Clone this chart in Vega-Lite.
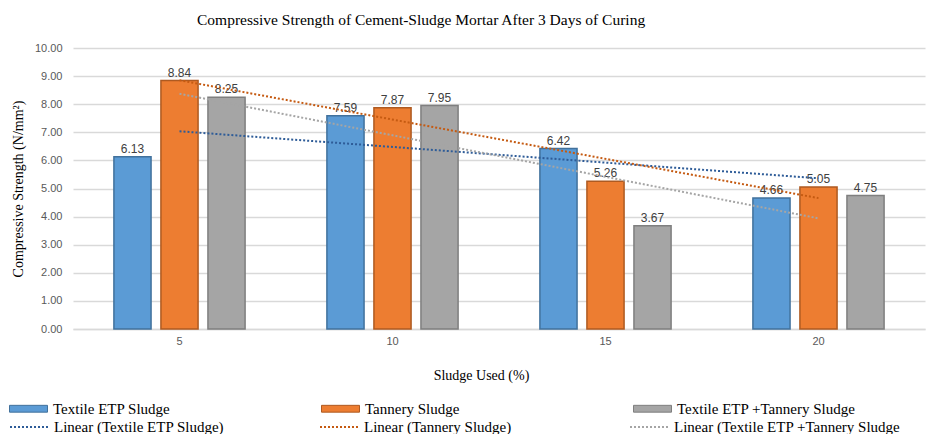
{
  "$schema": "https://vega.github.io/schema/vega-lite/v6.json",
  "autosize": {"type": "none"},
  "width": 852,
  "height": 281,
  "padding": {"left": 73, "top": 48, "right": 3, "bottom": 105},
  "background": "white",
  "title": {
    "text": "Compressive Strength  of Cement-Sludge Mortar After 3 Days of Curing",
    "anchor": "start",
    "frame": "group",
    "dx": 124,
    "offset": 14,
    "font": "Liberation Serif",
    "fontSize": 15.5,
    "fontWeight": "normal",
    "color": "#000000"
  },
  "config": {"view": {"stroke": null}},
  "data": {
    "values": [
      {"sludge": 5, "series": "Textile ETP Sludge", "trend": "Linear (Textile ETP Sludge)", "value": 6.13},
      {"sludge": 5, "series": "Tannery  Sludge", "trend": "Linear (Tannery  Sludge)", "value": 8.84},
      {"sludge": 5, "series": "Textile ETP +Tannery  Sludge", "trend": "Linear (Textile ETP +Tannery  Sludge", "value": 8.25},
      {"sludge": 10, "series": "Textile ETP Sludge", "trend": "Linear (Textile ETP Sludge)", "value": 7.59},
      {"sludge": 10, "series": "Tannery  Sludge", "trend": "Linear (Tannery  Sludge)", "value": 7.87},
      {"sludge": 10, "series": "Textile ETP +Tannery  Sludge", "trend": "Linear (Textile ETP +Tannery  Sludge", "value": 7.95},
      {"sludge": 15, "series": "Textile ETP Sludge", "trend": "Linear (Textile ETP Sludge)", "value": 6.42},
      {"sludge": 15, "series": "Tannery  Sludge", "trend": "Linear (Tannery  Sludge)", "value": 5.26},
      {"sludge": 15, "series": "Textile ETP +Tannery  Sludge", "trend": "Linear (Textile ETP +Tannery  Sludge", "value": 3.67},
      {"sludge": 20, "series": "Textile ETP Sludge", "trend": "Linear (Textile ETP Sludge)", "value": 4.66},
      {"sludge": 20, "series": "Tannery  Sludge", "trend": "Linear (Tannery  Sludge)", "value": 5.05},
      {"sludge": 20, "series": "Textile ETP +Tannery  Sludge", "trend": "Linear (Textile ETP +Tannery  Sludge", "value": 4.75}
    ]
  },
  "encoding": {
    "x": {
      "field": "sludge",
      "type": "ordinal",
      "scale": {"paddingInner": 0.34, "paddingOuter": 0.17},
      "axis": {
        "title": "Sludge Used (%)",
        "labelAngle": 0,
        "ticks": false,
        "domainColor": "#d9d9d9",
        "domainWidth": 1.5,
        "labelPadding": 6,
        "labelFont": "Liberation Sans",
        "labelFontSize": 11,
        "labelColor": "#595959",
        "titleFont": "Liberation Serif",
        "titleFontSize": 14,
        "titleFontWeight": "normal",
        "titleColor": "#000000",
        "titlePadding": 22,
        "titleX": 408
      }
    },
    "y": {
      "field": "value",
      "type": "quantitative",
      "scale": {"domain": [0, 10]},
      "axis": {
        "title": "Compressive Strength (N/mm²)",
        "values": [0, 1, 2, 3, 4, 5, 6, 7, 8, 9, 10],
        "format": ".2f",
        "labelOverlap": false,
        "grid": true,
        "gridColor": "#d9d9d9",
        "gridWidth": 1.5,
        "domain": false,
        "ticks": false,
        "labelPadding": 11,
        "labelFont": "Liberation Sans",
        "labelFontSize": 11,
        "labelColor": "#595959",
        "titleFont": "Liberation Serif",
        "titleFontSize": 14,
        "titleFontWeight": "normal",
        "titleColor": "#000000",
        "titlePadding": 9
      }
    }
  },
  "layer": [
    {
      "mark": {"type": "bar", "strokeWidth": 1.5},
      "encoding": {
        "xOffset": {
          "field": "series",
          "type": "nominal",
          "scale": {"domain": ["Textile ETP Sludge", "Tannery  Sludge", "Textile ETP +Tannery  Sludge"], "paddingInner": 0.21, "paddingOuter": 0.1}
        },
        "fill": {
          "field": "series",
          "type": "nominal",
          "scale": {"domain": ["Textile ETP Sludge", "Tannery  Sludge", "Textile ETP +Tannery  Sludge"], "range": ["#5B9BD5", "#ED7D31", "#A5A5A5"]},
          "legend": {
            "title": null,
            "orient": "none",
            "legendX": -64,
            "legendY": 341,
            "direction": "horizontal",
            "columns": 3,
            "gridAlign": "all",
            "columnPadding": 83,
            "symbolType": "M-1,-0.18H1V0.18H-1Z",
            "symbolSize": 1444,
            "symbolStrokeWidth": 1,
            "labelFont": "Liberation Serif",
            "labelFontSize": 15,
            "labelColor": "#000000",
            "labelOffset": 5,
            "labelLimit": 400,
            "encode": {"symbols": {"update": {"stroke": {"scale": "stroke", "field": "value"}}}}
          }
        },
        "stroke": {
          "field": "series",
          "type": "nominal",
          "scale": {"domain": ["Textile ETP Sludge", "Tannery  Sludge", "Textile ETP +Tannery  Sludge"], "range": ["#41719C", "#AE5A21", "#7F7F7F"]},
          "legend": null
        }
      }
    },
    {
      "mark": {"type": "text", "dy": -8, "font": "Liberation Sans", "fontSize": 12, "color": "#404040"},
      "encoding": {
        "xOffset": {"field": "series", "type": "nominal"},
        "text": {"field": "value", "type": "quantitative", "format": ".2f"}
      }
    },
    {
      "transform": [{"regression": "value", "on": "sludge", "groupby": ["trend"]}],
      "mark": {"type": "line", "strokeDash": [2, 2], "strokeWidth": 2},
      "encoding": {
        "color": {
          "field": "trend",
          "type": "nominal",
          "scale": {"domain": ["Linear (Textile ETP Sludge)", "Linear (Tannery  Sludge)", "Linear (Textile ETP +Tannery  Sludge"], "range": ["#2E5C98", "#C55A11", "#A5A5A5"]},
          "legend": {
            "title": null,
            "orient": "none",
            "legendX": -64,
            "legendY": 359,
            "direction": "horizontal",
            "columns": 3,
            "gridAlign": "all",
            "columnPadding": 31,
            "symbolType": "stroke",
            "symbolSize": 1444,
            "symbolStrokeWidth": 2,
            "symbolDash": [2, 2],
            "labelFont": "Liberation Serif",
            "labelFontSize": 15,
            "labelColor": "#000000",
            "labelOffset": 5,
            "labelLimit": 400
          }
        }
      }
    }
  ]
}
